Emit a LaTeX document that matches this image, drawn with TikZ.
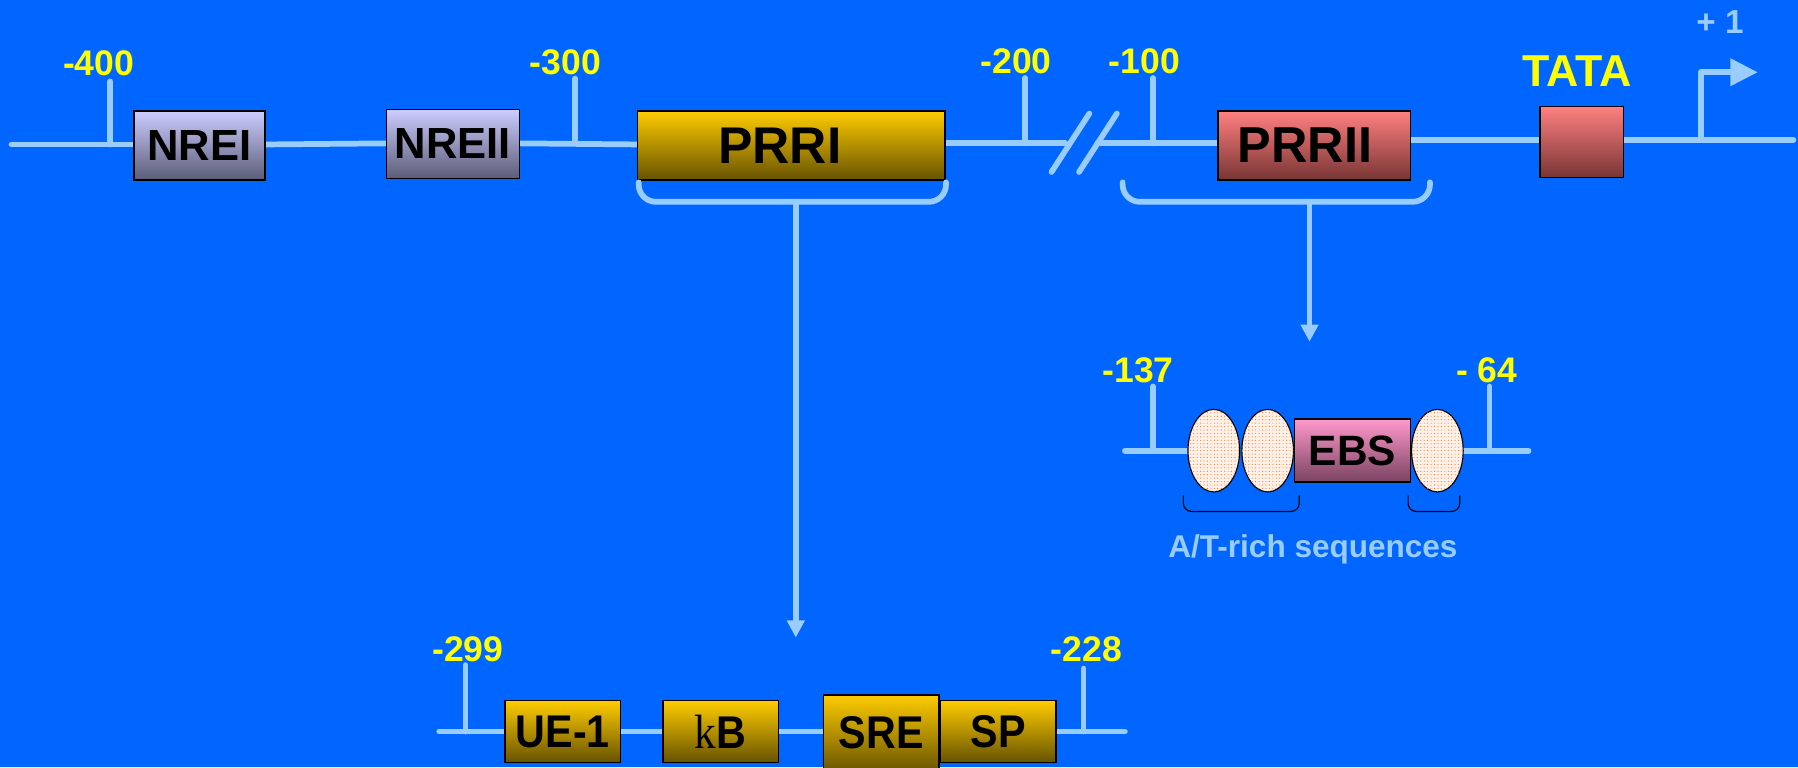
\documentclass[tikz,border=0pt]{standalone}
\usepackage{fontspec}
\setmainfont{Liberation Sans}
\newfontfamily\serifk{Liberation Serif}
\usetikzlibrary{arrows.meta,patterns,shapes.geometric}

\definecolor{bgblue}{RGB}{0,102,255}
\definecolor{wireblue}{RGB}{153,204,255}
\definecolor{labyellow}{RGB}{255,255,0}
\definecolor{nreTop}{RGB}{204,204,255}
\definecolor{nreBot}{RGB}{92,92,120}
\definecolor{goldTop}{RGB}{255,204,0}
\definecolor{goldBot}{RGB}{102,82,0}
\definecolor{redTop}{RGB}{255,128,128}
\definecolor{redBot}{RGB}{120,52,52}
\definecolor{pinkTop}{RGB}{255,153,204}
\definecolor{pinkBot}{RGB}{122,66,96}
\definecolor{peach}{RGB}{255,240,232}
\definecolor{dotorange}{RGB}{255,120,40}

\newcommand\setfs[1]{\fontsize{#1}{#1}\selectfont\bfseries}
\newcommand\narrowtext[1]{\scalebox{0.9}[1]{#1}}

\begin{document}
\begin{tikzpicture}[x=1pt,y=-1pt,
  wl/.style={draw=wireblue,line width=5pt,line cap=round},
  elem/.style={draw=black,line width=1.3pt,inner sep=0pt,text=black},
  nrebox/.style={elem,top color=nreTop,bottom color=nreBot,font=\setfs{38}},
  goldbox/.style={elem,top color=goldTop,bottom color=goldBot,font=\setfs{40}},
  redbox/.style={elem,top color=redTop,bottom color=redBot},
  ebsbox/.style={elem,top color=pinkTop,bottom color=pinkBot,font=\setfs{37}},
  poslab/.style={text=labyellow,inner sep=0pt,font=\setfs{31}},
  bead/.style={ellipse,draw=black,line width=1pt,fill=peach,
    postaction={pattern=dots,pattern color=dotorange},
    minimum width=45pt,minimum height=72pt,inner sep=0pt},
  tip/.style={-{Triangle[length=15pt,width=15pt]}},
]
\useasboundingbox (0,0) rectangle (1568,669);
\fill[bgblue] (0,0) rectangle (1568,669);

% ---------- promoter overview ----------
\coordinate (w0) at (10,126);
\coordinate (w1) at (1564,122);
\coordinate (brkA) at (929,125);
\coordinate (brkB) at (957,125);

% position ticks
\coordinate (k400) at (96,71);
\coordinate (k300) at (501.5,68.5);
\coordinate (k200) at (894,68);
\coordinate (k100) at (1005.5,68);
\draw[wl] (k400) -- (k400 |- w0);
\draw[wl] (k300) -- (k300 |- brkA);
\draw[wl] (k200) -- (k200 |- brkA);
\draw[wl] (k100) -- (k100 |- brkA);

\node[poslab] (l400) at (86,55) {-400};
\node[poslab] (l300) at (493,54) {-300};
\node[poslab] (l200) at (886,53) {-200};
\node[poslab] (l100) at (998,53) {-100};

% break marks
\draw[wl] (917,150) -- (950,99);
\draw[wl] (941,150) -- (974,99);

% main line segments
\draw[wl] (w0) -- (134,126);
\draw[wl] (230,126) -- (340,125);
\draw[wl] (450,125) -- (560,126);
\draw[wl] (820,125) -- (brkA);
\draw[wl] (brkB) -- (1066,125);
\draw[wl] (1226,122) -- (1346,122);
\draw[wl] (1412,122) -- (w1);

% regulatory elements
\node[nrebox,minimum width=114pt,minimum height=60pt] (nrei) at (174,127) {NREI};
\node[nrebox,minimum width=116pt,minimum height=60pt] (nreii) at (395,125.5) {NREII};
\node[goldbox,minimum width=268pt,minimum height=60pt,font=\setfs{45}] (prri) at (690,127) {\hspace*{-20pt}PRRI};
\node[redbox,minimum width=168pt,minimum height=60pt,font=\setfs{44}] (prrii) at (1146,127) {\hspace*{-16pt}PRRII};
\node[redbox,minimum width=73pt,minimum height=62pt] (tata) at (1379.5,124) {};
\node[text=labyellow,inner sep=0pt,font=\setfs{39}] (ltata) at (1375,62) {TATA};

% transcription start
\coordinate (tss) at (1483.5,122);
\coordinate (tssTop) at (1483.5,63);
\coordinate (tssTip) at (1533,63);
\draw[wl,line join=round,-{Triangle[length=24pt,width=23pt]}] (tss) -- (tssTop) -- (tssTip);
\node[text=wireblue,inner sep=0pt,font=\setfs{29}] (lplus) at (1500,19.5) {+ 1};

% brackets with zoom arrows
\draw[wl,rounded corners=15pt] (557,159) -- (557,176) -- (825,176) -- (825,159);
\coordinate (prriStem) at (694,176);
\coordinate (prriTo) at (694,556);
\draw[wl,tip] (prriStem) -- (prriTo);

\draw[wl,rounded corners=15pt] (979,159) -- (979,176) -- (1247,176) -- (1247,159);
\coordinate (prriiStem) at (1142,176);
\coordinate (prriiTo) at (1142,298);
\draw[wl,tip] (prriiStem) -- (prriiTo);

% ---------- PRRII detail ----------
\coordinate (r0) at (981,393);
\coordinate (r1) at (1333,393);
\coordinate (k137) at (1005.5,337);
\coordinate (k64) at (1299,337);
\draw[wl] (k137) -- (k137 |- r0);
\draw[wl] (k64) -- (k64 |- r0);
\draw[wl] (r0) -- (1040,393);
\draw[wl] (1272,393) -- (r1);
\node[bead] (bd1) at (1058.5,393) {};
\node[bead] (bd2) at (1105.5,393) {};
\node[ebsbox,minimum width=101pt,minimum height=55pt] (ebs) at (1179.5,393) {EBS};
\node[bead] (bd3) at (1253.5,393) {};
\node[poslab] (l137) at (992.5,322.5) {-137};
\node[poslab] (l64) at (1296.5,322.5) {- 64};

\draw[black,line width=1pt,rounded corners=7pt] (1032,432) -- (1032,446) -- (1133,446) -- (1133,432);
\draw[black,line width=1pt,rounded corners=7pt] (1228,432) -- (1228,446) -- (1273,446) -- (1273,432);
\node[text=wireblue,inner sep=0pt,anchor=base,font=\setfs{27.5}] (atrich) at (1145,486.5) {A/T-rich sequences};

% ---------- PRRI detail ----------
\coordinate (b0) at (383,638);
\coordinate (b1) at (981,638);
\coordinate (k299) at (406,580);
\coordinate (k228) at (945,583);
\draw[wl] (k299) -- (k299 |- b0);
\draw[wl] (k228) -- (k228 |- b0);
\draw[wl] (b0) -- (444,638);
\draw[wl] (538,638) -- (582,638);
\draw[wl] (676,638) -- (721,638);
\draw[wl] (917,638) -- (b1);
\node[goldbox,minimum width=101pt,minimum height=54pt] (ue) at (490.75,638) {\narrowtext{UE-1}};
\node[goldbox,minimum width=101pt,minimum height=54pt] (kb) at (628.5,638) {\narrowtext{{\serifk\mdseries\fontsize{42}{42}\selectfont k}B}};
\node[goldbox,minimum width=101pt,minimum height=68pt] (sre) at (768.5,640) {\raisebox{2pt}{\narrowtext{SRE}}};
\node[goldbox,minimum width=101pt,minimum height=54pt] (sp) at (870.5,638) {\narrowtext{SP}};
\node[poslab] (l299) at (408,566) {-299};
\node[poslab] (l228) at (947.5,566) {-228};
\end{tikzpicture}
\end{document}
